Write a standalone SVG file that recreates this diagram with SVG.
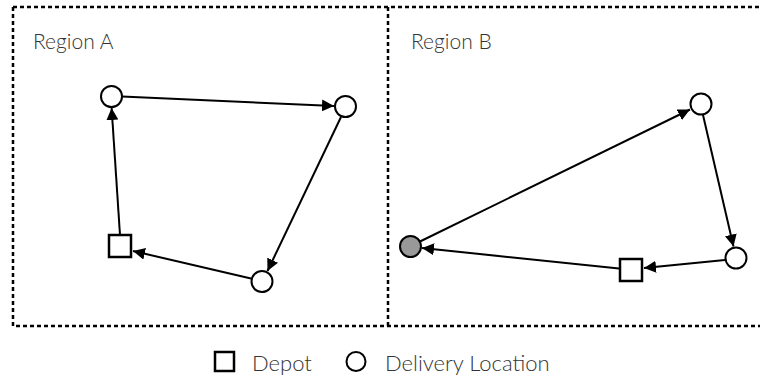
<svg xmlns="http://www.w3.org/2000/svg" width="760" height="380" viewBox="0 0 760 380">
<defs>
<style>
.frame{fill:none;stroke:#000;stroke-width:2.5;stroke-dasharray:4 3}
.edge{fill:none;stroke:#000;stroke-width:2;marker-end:url(#arr)}
.loc{fill:#fff;stroke:#000;stroke-width:2}
.depot{fill:#fff;stroke:#000;stroke-width:2.5}
.start{fill:#999;stroke:#000;stroke-width:2}
.lbl{font-family:Lato,"Open Sans","Liberation Sans",sans-serif;font-weight:300;font-size:21px;fill:#333}
.leg{font-family:Lato,"Open Sans","Liberation Sans",sans-serif;font-weight:300;font-size:22px;fill:#333}
</style>
<marker id="arr" viewBox="0 0 10 10" refX="10" refY="5" markerWidth="6" markerHeight="6" orient="auto" markerUnits="strokeWidth">
<path d="M0,0 L10,5 L0,10 z" fill="#000"/>
</marker>
</defs>
<rect width="760" height="380" fill="#fff"/>
<g id="frame">
<path class="frame" d="M13,7 H760 M13,7 V326 H760 M388,7 V326"/>
</g>
<text class="lbl" x="33" y="49">Region A</text>
<text class="lbl" x="411" y="49">Region B</text>
<g id="connectors">
<path class="edge" d="M120,235 L111.6,108"/>
<path class="edge" d="M122,96.5 L334,106"/>
<path class="edge" d="M341,117 L267.5,271"/>
<path class="edge" d="M251,278.5 L133,251"/>
<path class="edge" d="M420,241.5 L690,109.5"/>
<path class="edge" d="M703,115 L733.5,246.5"/>
<path class="edge" d="M725,260 L644,268"/>
<path class="edge" d="M619,268.5 L422,248"/>
</g>
<g id="a-depot"><rect class="depot" x="109" y="235" width="22" height="22"/></g>
<g id="a-loc1"><circle class="loc" cx="111.5" cy="96.5" r="10.5"/></g>
<g id="a-loc2"><circle class="loc" cx="345.5" cy="106.5" r="10.5"/></g>
<g id="a-loc3"><circle class="loc" cx="262" cy="281.5" r="10.5"/></g>
<g id="b-start"><circle class="start" cx="410.5" cy="246.5" r="10.5"/></g>
<g id="b-loc1"><circle class="loc" cx="701" cy="104" r="10.5"/></g>
<g id="b-loc2"><circle class="loc" cx="736" cy="258" r="10.5"/></g>
<g id="b-depot"><rect class="depot" x="620" y="259" width="22" height="22"/></g>
<g id="legend">
<rect class="depot" x="215" y="352" width="19" height="19"/>
<text class="leg" x="252" y="371">Depot</text>
<circle class="loc" cx="356" cy="361.5" r="9.5"/>
<text class="leg" x="385" y="371">Delivery Location</text>
</g>
</svg>
